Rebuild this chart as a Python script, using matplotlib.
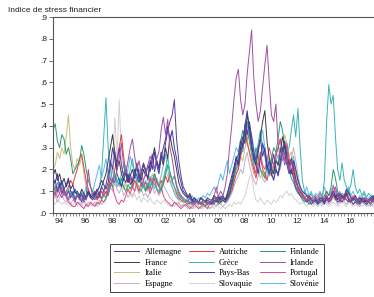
import numpy as np
import matplotlib.pyplot as plt
from matplotlib.ticker import FixedLocator, NullFormatter

# bimonthly observations, one row of 6 values per year, 1994 -> 2018
years = list(range(1994, 2019))

allemagne = [
    .16, .14, .18, .12, .15, .11,  .13, .16, .10, .09, .11, .08,  .07, .09, .06, .08, .10, .07,
    .06, .08, .10, .12, .15, .13,  .11, .14, .22, .30, .25, .18,  .15, .12, .16, .14, .18, .13,
    .15, .20, .17, .14, .18, .22,  .19, .16, .24, .20, .28, .22,  .18, .25, .30, .34, .40, .33,
    .38, .30, .25, .18, .14, .10,  .09, .07, .08, .06, .05, .06,  .05, .07, .06, .05, .06, .05,
    .05, .07, .06, .08, .06, .07,  .06, .08, .12, .15, .20, .26,  .22, .28, .32, .40, .47, .38,
    .30, .26, .22, .18, .25, .32,  .28, .20, .24, .18, .15, .20,  .17, .22, .28, .33, .25, .20,
    .18, .24, .20, .15, .12, .10,  .09, .08, .07, .06, .05, .06,  .05, .07, .06, .05, .08, .06,
    .07, .10, .08, .06, .09, .07,  .08, .11, .09, .07, .06, .08,  .06, .05, .07, .06, .05, .06,
    .07, .08, .06, .07, .09, .08]
autriche = [
    .09, .12, .10, .14, .11, .08,  .10, .12, .15, .13, .17, .20,  .25, .27, .21, .15, .11, .08,
    .07, .09, .06, .08, .07, .10,  .09, .12, .16, .14, .20, .25,  .30, .36, .26, .18, .14, .16,
    .12, .15, .13, .10, .14, .12,  .14, .11, .16, .13, .18, .15,  .12, .15, .13, .17, .14, .18,
    .15, .12, .09, .07, .06, .05,  .05, .06, .04, .05, .04, .05,  .04, .05, .04, .06, .05, .04,
    .05, .04, .06, .05, .07, .06,  .05, .06, .08, .10, .14, .18,  .20, .26, .30, .38, .32, .28,
    .24, .20, .16, .22, .26, .20,  .18, .15, .20, .17, .22, .26,  .30, .34, .28, .24, .30, .22,
    .18, .22, .16, .12, .10, .09,  .07, .08, .06, .07, .05, .06,  .05, .07, .06, .05, .06, .05,
    .07, .09, .06, .08, .05, .07,  .06, .08, .06, .05, .07, .06,  .05, .06, .05, .07, .06, .05,
    .06, .05, .07, .06, .05, .06]
finlande = [
    .38, .41, .33, .30, .36, .34,  .27, .30, .25, .18, .20, .22,  .24, .31, .27, .20, .15, .12,
    .10, .08, .07, .09, .06, .08,  .07, .10, .14, .12, .18, .15,  .13, .16, .12, .10, .13, .11,
    .13, .18, .22, .16, .14, .12,  .10, .13, .11, .15, .18, .14,  .12, .10, .14, .18, .22, .19,
    .15, .17, .12, .09, .07, .06,  .05, .04, .05, .04, .06, .05,  .04, .05, .04, .03, .05, .04,
    .04, .05, .06, .04, .05, .06,  .05, .06, .08, .12, .16, .22,  .25, .32, .38, .35, .42, .36,
    .28, .24, .30, .26, .20, .18,  .16, .22, .18, .25, .30, .28,  .34, .42, .38, .30, .24, .20,
    .16, .14, .11, .09, .08, .06,  .05, .06, .04, .05, .06, .05,  .04, .06, .05, .08, .10, .08,
    .12, .20, .16, .10, .08, .07,  .06, .08, .10, .07, .06, .05,  .04, .05, .06, .05, .04, .05,
    .05, .06, .04, .05, .06, .05]
france = [
    .17, .20, .15, .18, .13, .16,  .12, .15, .11, .13, .09, .10,  .08, .11, .09, .07, .10, .08,
    .07, .09, .11, .08, .12, .15,  .18, .24, .30, .36, .28, .20,  .24, .18, .15, .19, .14, .17,
    .20, .16, .23, .18, .15, .20,  .17, .22, .19, .25, .30, .24,  .20, .26, .22, .30, .25, .36,
    .30, .26, .20, .14, .11, .09,  .08, .07, .09, .06, .07, .06,  .05, .07, .06, .05, .07, .06,
    .06, .08, .07, .05, .07, .08,  .06, .09, .13, .17, .21, .25,  .22, .30, .35, .32, .45, .40,
    .32, .25, .22, .28, .35, .42,  .47, .33, .25, .20, .18, .24,  .22, .28, .35, .30, .26, .22,
    .25, .20, .15, .12, .10, .08,  .07, .06, .08, .06, .05, .07,  .06, .05, .07, .06, .08, .06,
    .08, .10, .07, .09, .06, .08,  .07, .09, .06, .05, .07, .06,  .05, .07, .06, .05, .06, .05,
    .06, .07, .05, .06, .08, .07]
grece = [
    .12, .10, .14, .11, .13, .10,  .09, .11, .08, .10, .07, .09,  .08, .06, .09, .07, .10, .08,
    .09, .07, .10, .12, .18, .35,  .53, .30, .20, .15, .18, .14,  .16, .12, .18, .22, .15, .20,
    .25, .18, .14, .12, .10, .13,  .11, .14, .12, .16, .13, .11,  .10, .12, .15, .20, .26, .18,
    .14, .12, .10, .08, .07, .06,  .05, .06, .05, .04, .05, .06,  .05, .04, .06, .05, .04, .05,
    .06, .05, .07, .06, .08, .07,  .06, .08, .10, .14, .17, .20,  .24, .30, .28, .36, .42, .34,
    .28, .22, .26, .32, .38, .30,  .26, .20, .17, .22, .18, .25,  .22, .26, .24, .30, .28, .30,
    .38, .45, .35, .48, .30, .15,  .10, .08, .07, .09, .06, .07,  .06, .08, .07, .15, .42, .59,
    .50, .54, .35, .20, .15, .23,  .15, .12, .10, .13, .20, .12,  .09, .11, .08, .10, .07, .09,
    .08, .07, .09, .08, .10, .08]
irlande = [
    .10, .08, .12, .09, .07, .10,  .08, .06, .09, .07, .05, .08,  .06, .08, .05, .07, .20, .12,
    .08, .06, .09, .07, .10, .08,  .10, .08, .12, .16, .14, .20,  .25, .32, .22, .18, .24, .30,
    .34, .26, .20, .24, .18, .15,  .18, .22, .26, .24, .20, .25,  .28, .38, .44, .36, .43, .30,
    .25, .18, .13, .10, .08, .07,  .06, .05, .07, .05, .04, .06,  .05, .04, .06, .05, .04, .05,
    .05, .07, .06, .08, .10, .08,  .12, .18, .30, .40, .52, .62,  .66, .52, .45, .50, .64, .74,
    .84, .62, .50, .42, .47, .58,  .68, .77, .60, .45, .42, .50,  .32, .25, .28, .22, .26, .20,
    .24, .18, .15, .12, .10, .08,  .07, .06, .08, .06, .05, .07,  .06, .05, .07, .06, .08, .06,
    .07, .09, .12, .08, .06, .07,  .06, .08, .07, .05, .06, .07,  .05, .06, .05, .07, .06, .05,
    .06, .05, .07, .06, .05, .06]
italie = [
    .20, .22, .28, .25, .30, .27,  .35, .45, .30, .22, .20, .25,  .22, .26, .18, .12, .10, .08,
    .07, .09, .06, .08, .10, .09,  .08, .12, .16, .22, .18, .14,  .12, .15, .11, .14, .10, .12,
    .11, .14, .12, .09, .11, .13,  .12, .10, .14, .18, .15, .12,  .10, .13, .16, .20, .17, .14,
    .12, .10, .08, .06, .05, .06,  .05, .04, .05, .06, .04, .05,  .04, .05, .03, .04, .05, .04,
    .05, .04, .06, .05, .04, .06,  .05, .07, .09, .11, .14, .18,  .21, .26, .24, .30, .34, .28,
    .22, .18, .24, .20, .16, .19,  .17, .21, .26, .22, .19, .24,  .27, .24, .30, .36, .32, .26,
    .28, .22, .18, .14, .11, .09,  .08, .09, .07, .06, .08, .06,  .05, .07, .06, .08, .07, .06,
    .08, .11, .09, .07, .06, .08,  .07, .06, .09, .08, .06, .07,  .06, .05, .06, .07, .05, .06,
    .07, .06, .08, .09, .07, .06]
pays_bas = [
    .12, .15, .10, .13, .09, .11,  .08, .10, .07, .09, .06, .08,  .07, .05, .08, .06, .09, .07,
    .08, .10, .07, .09, .12, .10,  .13, .18, .24, .20, .28, .22,  .30, .22, .17, .20, .15, .18,
    .14, .17, .21, .16, .19, .23,  .20, .15, .22, .27, .19, .24,  .21, .28, .24, .32, .38, .42,
    .45, .52, .34, .24, .17, .12,  .10, .08, .07, .05, .07, .06,  .05, .04, .06, .05, .04, .05,
    .04, .06, .05, .07, .05, .06,  .05, .07, .09, .13, .18, .24,  .27, .33, .30, .41, .36, .42,
    .35, .28, .24, .30, .34, .26,  .30, .22, .18, .22, .27, .20,  .18, .24, .30, .27, .22, .18,
    .20, .16, .12, .10, .08, .07,  .06, .05, .06, .04, .05, .06,  .04, .05, .06, .04, .07, .05,
    .06, .08, .07, .05, .06, .05,  .07, .06, .05, .06, .04, .05,  .05, .04, .06, .05, .04, .05,
    .04, .06, .05, .04, .06, .05]
portugal = [
    .08, .10, .07, .09, .12, .10,  .07, .05, .04, .03, .03, .05,  .04, .03, .02, .04, .03, .05,
    .04, .03, .05, .04, .06, .05,  .07, .10, .14, .12, .08, .05,  .04, .06, .05, .08, .11, .09,
    .12, .10, .14, .17, .12, .15,  .10, .13, .09, .12, .16, .11,  .09, .12, .08, .06, .05, .04,
    .03, .05, .04, .03, .02, .03,  .04, .03, .02, .03, .04, .03,  .02, .03, .04, .03, .02, .04,
    .05, .08, .12, .07, .05, .06,  .05, .07, .10, .13, .17, .20,  .22, .27, .30, .34, .38, .33,
    .27, .22, .18, .24, .28, .22,  .20, .24, .30, .26, .21, .27,  .30, .34, .28, .24, .32, .25,
    .20, .17, .14, .11, .09, .08,  .07, .06, .08, .07, .06, .08,  .07, .09, .08, .06, .10, .08,
    .09, .12, .10, .08, .07, .09,  .08, .10, .07, .06, .08, .07,  .06, .07, .05, .06, .07, .06,
    .07, .06, .08, .07, .06, .08]
espagne = [
    .06, .08, .05, .07, .09, .06,  .05, .07, .04, .06, .05, .04,  .05, .04, .06, .03, .05, .04,
    .04, .05, .03, .06, .04, .05,  .06, .09, .12, .10, .14, .11,  .09, .12, .08, .10, .07, .09,
    .08, .10, .12, .09, .11, .08,  .09, .07, .10, .12, .09, .11,  .08, .10, .13, .11, .09, .07,
    .06, .05, .04, .05, .03, .04,  .03, .04, .03, .02, .03, .04,  .03, .02, .03, .04, .03, .02,
    .03, .04, .03, .05, .04, .03,  .04, .05, .07, .09, .12, .15,  .17, .20, .18, .24, .28, .22,
    .18, .15, .13, .17, .20, .16,  .14, .18, .22, .19, .16, .20,  .23, .20, .26, .30, .27, .22,
    .25, .30, .24, .18, .12, .09,  .07, .06, .05, .06, .04, .05,  .04, .05, .04, .06, .05, .04,
    .05, .07, .06, .04, .05, .06,  .05, .04, .06, .05, .04, .05,  .04, .03, .05, .04, .03, .04,
    .03, .04, .05, .04, .03, .04]
slovaquie = [
    .05, .04, .06, .05, .04, .05,  .04, .05, .03, .04, .05, .03,  .04, .03, .05, .04, .03, .04,
    .03, .04, .05, .04, .06, .05,  .07, .10, .15, .20, .44, .25,  .52, .25, .15, .12, .10, .08,
    .07, .09, .06, .08, .05, .07,  .06, .05, .07, .05, .04, .06,  .05, .04, .06, .05, .04, .03,
    .04, .03, .05, .04, .03, .04,  .03, .02, .03, .04, .02, .03,  .02, .03, .02, .03, .04, .02,
    .03, .02, .04, .03, .02, .03,  .02, .03, .04, .03, .05, .04,  .05, .04, .06, .08, .12, .16,
    .18, .10, .06, .05, .07, .05,  .04, .06, .05, .04, .06, .05,  .06, .08, .07, .09, .10, .08,
    .09, .07, .06, .05, .04, .05,  .04, .03, .05, .04, .03, .04,  .03, .04, .03, .05, .04, .03,
    .04, .05, .04, .03, .04, .05,  .04, .03, .05, .04, .03, .04,  .03, .04, .03, .04, .05, .03,
    .04, .03, .04, .05, .03, .04]
slovenie = [
    .10, .13, .09, .11, .14, .10,  .09, .07, .10, .08, .06, .09,  .07, .10, .08, .12, .09, .07,
    .10, .14, .18, .22, .16, .20,  .25, .18, .15, .20, .16, .12,  .14, .18, .22, .17, .20, .26,
    .22, .18, .15, .20, .16, .13,  .15, .12, .17, .14, .11, .16,  .13, .17, .22, .27, .20, .15,
    .12, .09, .07, .06, .08, .06,  .05, .07, .06, .08, .06, .05,  .07, .06, .08, .07, .09, .08,
    .10, .12, .09, .14, .18, .15,  .20, .24, .18, .22, .26, .30,  .28, .34, .30, .38, .33, .40,
    .36, .30, .25, .28, .34, .38,  .30, .24, .20, .25, .22, .28,  .25, .30, .27, .33, .28, .24,
    .22, .26, .20, .16, .12, .10,  .09, .12, .08, .10, .07, .09,  .08, .10, .07, .12, .09, .08,
    .10, .13, .09, .07, .10, .08,  .07, .09, .12, .08, .10, .07,  .06, .08, .07, .09, .06, .07,
    .08, .07, .06, .09, .08, .07]

# legend reads row by row in this order
pays = ["Allemagne", "Autriche", "Finlande",
        "France", "Grèce", "Irlande",
        "Italie", "Pays-Bas", "Portugal",
        "Espagne", "Slovaquie", "Slovénie"]
series = [allemagne, autriche, finlande, france, grece, irlande,
          italie, pays_bas, portugal, espagne, slovaquie, slovenie]
couleurs = ["#3a3aa8", "#e83a3a", "#2a9a70",
            "#3c3c3c", "#3ab4b4", "#a050a8",
            "#c8c080", "#5a3a9a", "#e04a8a",
            "#c0b0cc", "#d2d2d2", "#60b8e8"]

t = np.array([y + k / 6 for y in years for k in range(6)])

fig = plt.figure(figsize=(3.74, 2.97), dpi=100)
ax = fig.add_axes([53 / 374, 84 / 297, 331 / 374, 196 / 297])

# draw light colours first so dark lines stay on top
order = [10, 9, 6, 11, 1, 8, 2, 4, 3, 7, 0, 5]
lines = {}
for i in order:
    l, = ax.plot(t, series[i], color=couleurs[i], lw=0.7, label=pays[i])
    lines[i] = l

ax.set_xlim(1994.0, 2019.0)
ax.set_ylim(0, 0.9)

ax.set_yticks(np.arange(0, 0.91, 0.1))
ax.set_yticklabels(["." + str(i) for i in range(10)])
lab_years = list(range(1994, 2019, 2))
ax.xaxis.set_major_locator(FixedLocator([y + 0.45 for y in lab_years]))
ax.set_xticklabels([str(y)[2:] for y in lab_years])
ax.xaxis.set_minor_locator(FixedLocator(np.arange(1994, 2019.01, 0.25)))
ax.xaxis.set_minor_formatter(NullFormatter())

for sp in ["left", "bottom", "top"]:
    ax.spines[sp].set_color("#555555")
    ax.spines[sp].set_linewidth(0.8)
ax.spines["right"].set_visible(False)

ax.tick_params(axis="x", which="major", length=0, pad=3.5, labelsize=6, colors="#222222")
ax.tick_params(axis="x", which="minor", length=2.2, width=0.5, color="#555555")
ax.tick_params(axis="y", length=3, width=0.6, pad=1.5, labelsize=6, colors="#222222", color="#555555")
for lab in ax.get_xticklabels() + ax.get_yticklabels():
    lab.set_fontfamily("Liberation Sans")

fig.text(8 / 374, 1 - 10 / 297, "Indice de stress financier", fontsize=6,
         family="Liberation Sans", color="#222222", va="center", ha="left")

# matplotlib fills legend columns first
col_order = [0, 3, 6, 9, 1, 4, 7, 10, 2, 5, 8, 11]
leg = fig.legend([lines[i] for i in col_order], [pays[i] for i in col_order],
                 ncol=3, loc="center", bbox_to_anchor=(217 / 374, 1 - 268 / 297),
                 prop={"family": "Liberation Serif", "size": 6},
                 fancybox=False, framealpha=1, edgecolor="#444444",
                 handlelength=3.0, handletextpad=0.6, columnspacing=0.85,
                 labelspacing=0.32, borderpad=0.5)
leg.get_frame().set_linewidth(0.7)

fig.savefig("out.png", dpi=100)
